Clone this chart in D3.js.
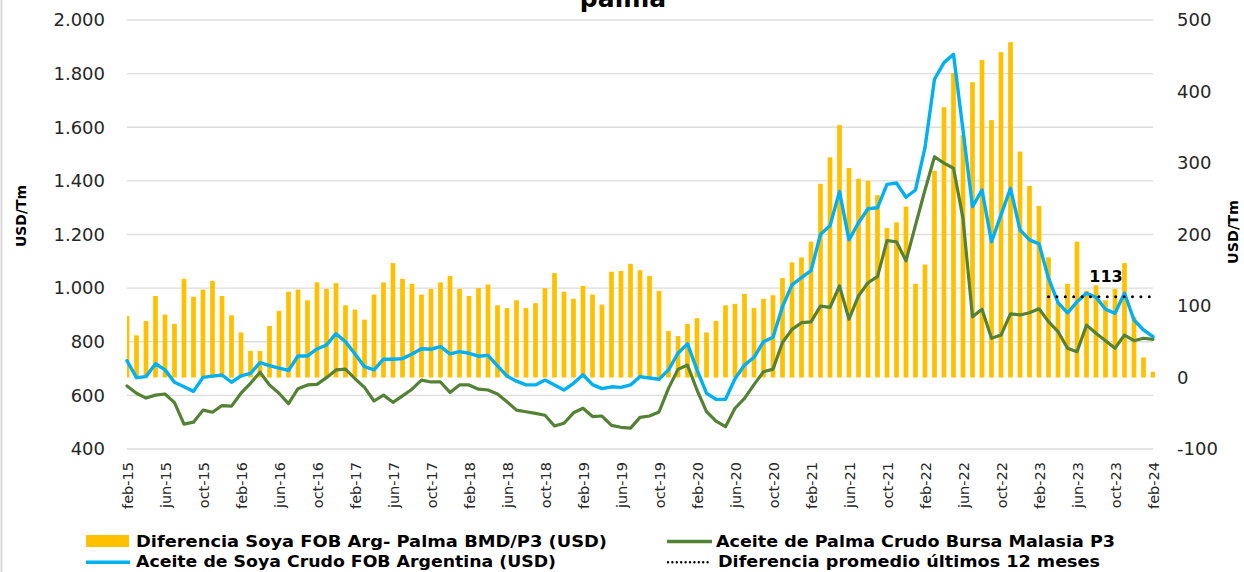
<!DOCTYPE html>
<html>
<head>
<meta charset="utf-8">
<script src="https://cdn.jsdelivr.net/npm/d3@7"></script>
<style>
  html, body { margin: 0; padding: 0; background: #ffffff; }
  svg { display: block; }
  text { font-family: "DejaVu Sans", "Open Sans", sans-serif; }
</style>
</head>
<body>
<svg id="chart" width="1244" height="572"></svg>
<script>
// ---- Data -----------------------------------------------------------------
const monthNames = ["ene","feb","mar","abr","may","jun","jul","ago","sep","oct","nov","dic"];
const firstYear = 2015;
const firstMonthIndex = 1;     // feb-15
const monthCount = 109;        // feb-15 ... feb-24
const categories = [];
for (let k = 0; k < monthCount; k++) {
  const m = firstMonthIndex + k;
  categories.push(monthNames[m % 12] + "-" + String(firstYear + Math.floor(m / 12)).slice(2));
}

// Diferencia Soya FOB Arg - Palma BMD/P3 (USD/Tm, right axis)
const diferencia = [
  86,59,79,114,88,75,138,113,123,135,114,87,63,37,37,72,93,120,123,108,133,124,132,
  101,95,81,116,133,160,138,131,116,124,133,142,124,114,125,130,101,97,108,97,104,
  125,146,120,110,128,116,102,148,149,159,150,142,121,65,58,75,83,63,79,101,103,117,97,
  110,115,139,161,168,190,271,308,353,293,278,275,255,209,217,239,131,158,289,378,426,339,
  413,444,360,455,469,316,268,240,168,105,131,190,121,129,108,124,160,85,28,8
];

// Aceite de Soya Crudo FOB Argentina (USD/Tm, left axis)
const soyaFob = [
  729,666,670,718,695,649,632,615,667,672,676,649,673,682,722,711,702,693,747,747,773,788,830,
  800,754,707,695,735,735,737,754,774,772,782,755,763,757,746,749,710,672,653,639,639,
  657,639,620,645,677,640,625,632,630,639,670,665,660,695,757,792,695,608,585,585,662,713,742,
  800,817,931,1012,1039,1065,1201,1233,1360,1180,1244,1296,1300,1387,1392,1339,1366,1524,1779,1841,1872,1590,
  1304,1366,1173,1273,1372,1217,1180,1165,1037,946,908,949,981,966,921,906,981,881,844,819
];

// Aceite de Palma Crudo Bursa Malasia P3 (USD/Tm, left axis)
const palmaP3 = [
  635,608,590,601,605,573,493,500,545,537,562,560,608,645,686,639,608,569,625,639,641,666,695,
  698,662,630,579,601,574,598,623,657,650,650,611,639,639,623,620,605,576,545,539,533,
  526,486,496,535,552,521,523,488,481,478,518,523,538,626,697,713,620,539,504,483,552,589,640,
  688,698,797,846,871,874,933,928,1008,884,971,1020,1043,1177,1173,1102,1235,1366,1490,1466,1447,1260,
  893,921,813,825,904,900,908,923,875,838,776,763,862,832,804,776,825,804,813,809
];

const leftTicks  = [400, 600, 800, 1000, 1200, 1400, 1600, 1800, 2000];
const rightTicks = [-100, 0, 100, 200, 300, 400, 500];
const xTickEvery = 4;
const avgWindow = 12;

const legendLabels = {
  diferencia: "Diferencia  Soya FOB Arg- Palma BMD/P3 (USD)",
  palma: "Aceite de Palma Crudo Bursa Malasia P3",
  soya: "Aceite de Soya Crudo FOB Argentina (USD)",
  promedio: "Diferencia promedio últimos 12 meses"
};

// ---- Layout & style -------------------------------------------------------
const W = 1244, H = 572;
const plot = { left: 127, right: 1153, top: 20, bottom: 449 };
const colors = { bar: "#FFC000", soya: "#00B0F0", palma: "#548235", grid: "#DDDDDD", text: "#262626" };

const svg = d3.select("#chart");
svg.append("rect").attr("width", W).attr("height", H).attr("fill", "#fff");
// chart frame edge on the left
svg.append("line").attr("x1", 1.5).attr("x2", 1.5).attr("y1", 0).attr("y2", H)
  .attr("stroke", "#D9D9D9").attr("stroke-width", 2);

const locale = d3.formatLocale({ decimal: ",", thousands: ".", grouping: [3], currency: ["$", ""], minus: "-" });
const fmtLeft = locale.format(",.0f");
const fmtRight = locale.format("d");

const x = d3.scalePoint().domain(categories).range([plot.left, plot.right]);
const yL = d3.scaleLinear().domain([400, 2000]).range([plot.bottom, plot.top]);
const yR = d3.scaleLinear().domain([-100, 500]).range([plot.bottom, plot.top]);

// clip region for the plotted series
svg.append("defs").append("clipPath").attr("id", "plotClip")
  .append("rect").attr("x", plot.left).attr("y", 0)
  .attr("width", plot.right - plot.left + 2).attr("height", H);

// gridlines
svg.append("g").selectAll("line").data(leftTicks).join("line")
  .attr("x1", plot.left).attr("x2", plot.right)
  .attr("y1", d => yL(d)).attr("y2", d => yL(d))
  .attr("stroke", colors.grid).attr("stroke-width", 1.3);

// left axis labels
const gLeft = svg.append("g").attr("transform", `translate(105,0)`)
  .call(d3.axisLeft(yL).tickValues(leftTicks).tickFormat(fmtLeft).tickSize(0).tickPadding(0));
gLeft.select(".domain").remove();
gLeft.selectAll("text").attr("font-size", 18).attr("fill", colors.text)
  .style("font-family", "'DejaVu Sans', sans-serif");

// right axis labels
const gRight = svg.append("g").attr("transform", `translate(1177,0)`)
  .call(d3.axisRight(yR).tickValues(rightTicks).tickFormat(fmtRight).tickSize(0).tickPadding(0));
gRight.select(".domain").remove();
gRight.selectAll("text").attr("font-size", 18).attr("fill", colors.text)
  .style("font-family", "'DejaVu Sans', sans-serif");

// x axis labels (every 4 months), rotated
const gX = svg.append("g").attr("transform", `translate(0,462)`)
  .call(d3.axisBottom(x).tickValues(categories.filter((d, i) => i % xTickEvery === 0)).tickSize(0));
gX.select(".domain").remove();
gX.selectAll("text")
  .attr("font-size", 14.5).attr("fill", colors.text)
  .style("font-family", "'DejaVu Sans', sans-serif")
  .attr("transform", "rotate(-90)")
  .attr("text-anchor", "end")
  .attr("x", 0).attr("y", 0).attr("dy", "0.36em");

// bars: difference (right axis)
const barW = 4.7;
svg.append("g").attr("clip-path", "url(#plotClip)")
  .selectAll("rect").data(diferencia).join("rect")
  .attr("x", (d, i) => x(categories[i]) - barW / 2)
  .attr("width", barW)
  .attr("y", d => Math.min(yR(d), yR(0)))
  .attr("height", d => Math.abs(yR(d) - yR(0)))
  .attr("fill", colors.bar);

// lines (left axis)
const lineL = d3.line().x((d, i) => x(categories[i])).y(d => yL(d));
svg.append("path").datum(palmaP3).attr("d", lineL)
  .attr("fill", "none").attr("stroke", colors.palma).attr("stroke-width", 3.2)
  .attr("stroke-linejoin", "round").attr("stroke-linecap", "round");
svg.append("path").datum(soyaFob).attr("d", lineL)
  .attr("fill", "none").attr("stroke", colors.soya).attr("stroke-width", 3.4)
  .attr("stroke-linejoin", "round").attr("stroke-linecap", "round");

// 12-month average of the difference, dotted
const lastIdx = categories.length - 1;
const firstAvgIdx = lastIdx - avgWindow + 1;
const avgValue = Math.round(d3.mean(diferencia.slice(firstAvgIdx)));
svg.append("line")
  .attr("x1", x(categories[firstAvgIdx])).attr("x2", x(categories[lastIdx]))
  .attr("y1", yR(avgValue)).attr("y2", yR(avgValue))
  .attr("stroke", "#000").attr("stroke-width", 3)
  .attr("stroke-dasharray", "0,8.4").attr("stroke-linecap", "round");
svg.append("text")
  .attr("x", 1106).attr("y", yR(avgValue) - 14.5)
  .attr("text-anchor", "middle").attr("font-size", 16).attr("font-weight", "bold")
  .attr("fill", "#000").text(avgValue);

// title (second line)
svg.append("text").attr("x", 623).attr("y", 7).attr("text-anchor", "middle")
  .attr("font-size", 25).attr("font-weight", "bold").attr("fill", "#000").text("palma");

// axis titles
svg.append("text").attr("transform", "translate(26,216) rotate(-90)")
  .attr("text-anchor", "middle").attr("font-size", 14.5).attr("font-weight", "bold")
  .attr("fill", "#000").attr("textLength", 62).attr("lengthAdjust", "spacingAndGlyphs").text("USD/Tm");
svg.append("text").attr("transform", "translate(1238,232) rotate(-90)")
  .attr("text-anchor", "middle").attr("font-size", 14.5).attr("font-weight", "bold")
  .attr("fill", "#000").attr("textLength", 64).attr("lengthAdjust", "spacingAndGlyphs").text("USD/Tm");

// legend
const lg = svg.append("g");
lg.append("rect").attr("x", 86).attr("y", 535).attr("width", 43).attr("height", 12).attr("fill", colors.bar);
lg.append("line").attr("x1", 667).attr("x2", 712).attr("y1", 541.5).attr("y2", 541.5)
  .attr("stroke", colors.palma).attr("stroke-width", 3.5);
lg.append("line").attr("x1", 86).attr("x2", 130).attr("y1", 562.3).attr("y2", 562.3)
  .attr("stroke", colors.soya).attr("stroke-width", 3.5);
lg.append("line").attr("x1", 668).attr("x2", 712).attr("y1", 562.3).attr("y2", 562.3)
  .attr("stroke", "#000").attr("stroke-width", 2.4)
  .attr("stroke-dasharray", "0,4.4").attr("stroke-linecap", "round");
const legendText = [
  { x: 136, y: 546.7, w: 471, t: legendLabels.diferencia },
  { x: 716, y: 546.7, w: 399, t: legendLabels.palma },
  { x: 136, y: 567.3, w: 420, t: legendLabels.soya },
  { x: 718, y: 567.3, w: 382, t: legendLabels.promedio }
];
lg.selectAll("text").data(legendText).join("text")
  .attr("x", d => d.x).attr("y", d => d.y)
  .attr("font-size", 15).attr("font-weight", "bold").attr("fill", "#000")
  .attr("textLength", d => d.w).attr("lengthAdjust", "spacingAndGlyphs")
  .text(d => d.t);
</script>
</body>
</html>
